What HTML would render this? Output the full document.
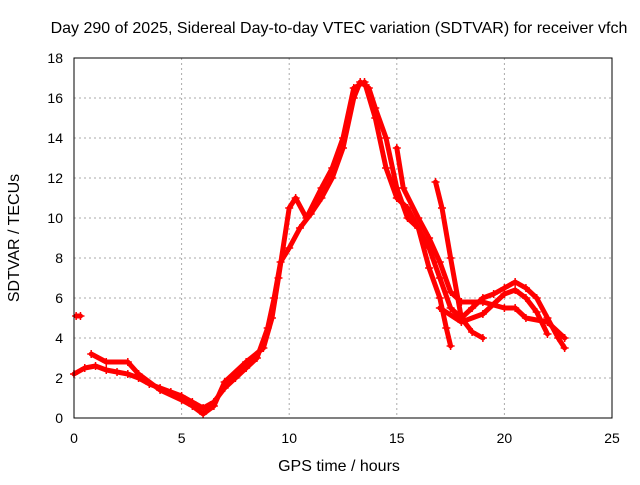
<!DOCTYPE html>
<html><head><meta charset="utf-8"><style>
body{margin:0;background:#fff}
text{font-family:"Liberation Sans",sans-serif;font-size:14px;fill:#000}
.big{font-size:16px}
</style></head><body>
<svg id="chart" width="640" height="480" xmlns="http://www.w3.org/2000/svg">
<text class="big" x="339" y="33" text-anchor="middle">Day 290 of 2025, Sidereal Day-to-day VTEC variation (SDTVAR) for receiver vfch</text>
<text class="big" x="339" y="471" text-anchor="middle">GPS time / hours</text>
<text class="big" transform="translate(19,238) rotate(-90)" text-anchor="middle">SDTVAR / TECUs</text>
<g id="grid"></g><g id="ticks"></g><g id="series"></g>
<rect x="74" y="58" width="538" height="360" fill="none" stroke="#000"/>
</svg>
<script>
const xTicks=[0,5,10,15,20,25];
const yTicks=[0,2,4,6,8,10,12,14,16,18];
const seriesA=[[0,2.2],[0.5,2.5],[1,2.6],[1.5,2.4],[2,2.3],[2.5,2.2],[3,2.0],[3.5,1.7],[4,1.5],[4.5,1.3],[5,1.1],[5.5,0.8],[6,0.5],[6.5,0.8],[7,1.5],[7.5,2.0],[8,2.5],[8.5,3.0],[9,4.5],[9.3,6],[9.6,7.8],[10,8.5],[10.5,9.5],[11,10.2],[11.5,11],[12,12],[12.5,13.5],[13,16],[13.3,16.8],[13.7,16.5],[14,15.5],[14.5,14],[15,11.5],[15.5,10],[16,9.5],[16.5,8.5],[17,7],[17.5,5.5],[18,5],[18.5,5.5],[19,6],[19.5,6.2],[20,6.5],[20.5,6.8],[21,6.5],[21.5,6],[22,5],[22.5,4],[22.8,3.5]];
const seriesB=[[0.8,3.2],[1.5,2.8],[2.5,2.8],[3,2.2],[4,1.4],[5,0.9],[5.5,0.6],[6,0.2],[6.5,0.6],[7,1.8],[8,2.8],[8.8,3.5],[9.2,5],[9.5,7],[10,10.5],[10.3,11],[10.8,10],[11.5,11.5],[12,12.5],[12.5,14],[13,16.5],[13.5,16.8],[14,15],[14.5,12.5],[15,11],[15.5,10.5],[16,9.5],[16.5,7.5],[17,6],[17.3,4.5],[17.5,3.6]];
const seriesC=[[15,13.5],[15.3,11.5],[16,10],[16.5,9],[17,7.8],[17.5,6.3],[18,5.8],[19,5.8],[20,5.5],[20.5,5.5],[21,5],[22,4.8],[22.8,4]];
const seriesD=[[16.8,11.8],[17.1,10.5],[17.5,8],[18,5],[18.5,4.3],[19,4.0]];
const seriesE=[[17,5.5],[18,4.8],[19,5.2],[20,6.2],[20.5,6.4],[21,6],[21.5,5.3],[22,4.2]];
const seriesF=[[0.1,5.1],[0.3,5.1]];
const allSeries=[seriesA,seriesB,seriesC,seriesD,seriesE,seriesF];
const NS="http://www.w3.org/2000/svg";
const X=v=>74+v*538/25, Y=v=>418-v*20;
const grid=document.getElementById('grid'),ticks=document.getElementById('ticks'),ser=document.getElementById('series');
function mk(tag,attrs,parent){const e=document.createElementNS(NS,tag);for(const k in attrs)e.setAttribute(k,attrs[k]);parent.appendChild(e);return e;}
xTicks.forEach(t=>{
 if(t>0&&t<25){const g=mk('line',{x1:X(t),x2:X(t),y1:58,y2:418,stroke:'#aaa','stroke-dasharray':'2,3'},grid);
 
 }
 const tl=mk('text',{x:X(t),y:443,'text-anchor':'middle'},ticks);tl.textContent=t;
 
 
});
yTicks.forEach(t=>{
 if(t>0&&t<18){const g=mk('line',{x1:74,x2:612,y1:Y(t),y2:Y(t),stroke:'#aaa','stroke-dasharray':'2,3'},grid);
 
 }
 const tl=mk('text',{x:63,y:Y(t)+5,'text-anchor':'end'},ticks);tl.textContent=t;
 
 
});
allSeries.forEach((s,i)=>{
 const p=mk('polyline',{points:s.map(d=>X(d[0])+','+Y(d[1])).join(' '),fill:'none',stroke:'#f00','stroke-width':5,'stroke-linejoin':'round','stroke-linecap':'round'},ser);
 
 
 s.forEach(d=>{const m=mk('path',{d:`M${X(d[0])-4},${Y(d[1])}h8M${X(d[0])},${Y(d[1])-4}v8`,stroke:'#f00','stroke-width':1.5},ser);
 
 });
});
</script>
</body></html>
